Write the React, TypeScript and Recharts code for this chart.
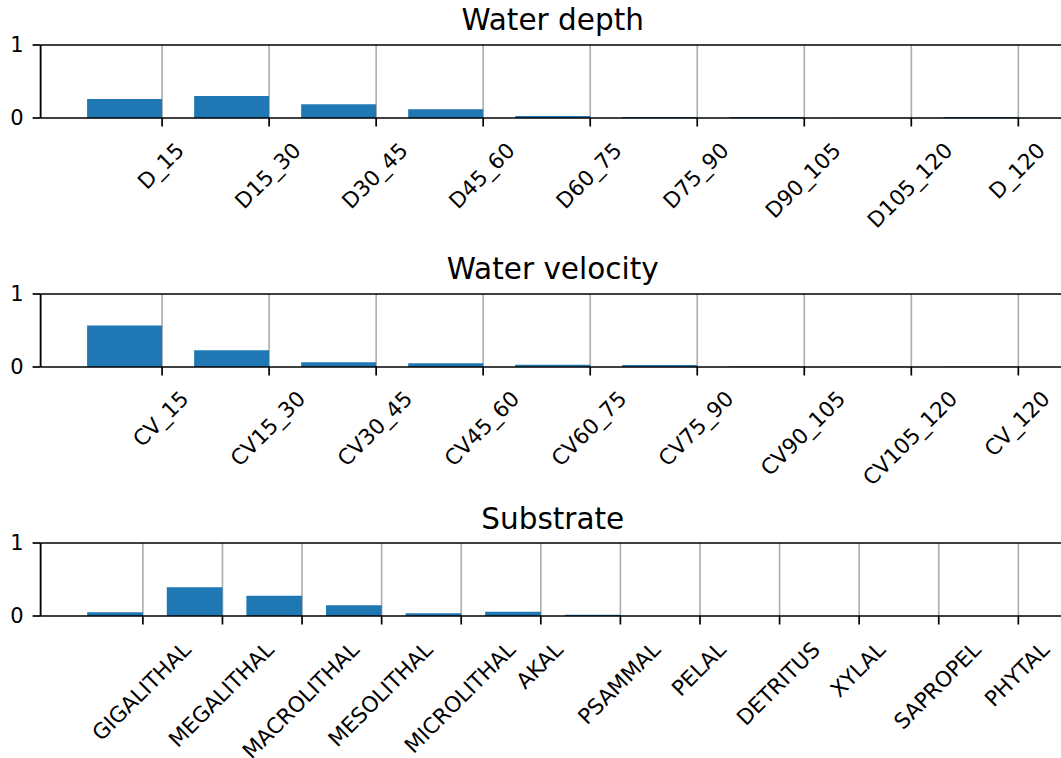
import React from 'react';
import { BarChart, Bar, XAxis, YAxis, CartesianGrid, ReferenceLine } from 'recharts';

// ---------- data ----------
const depthLabels = ['D_15', 'D15_30', 'D30_45', 'D45_60', 'D60_75', 'D75_90', 'D90_105', 'D105_120', 'D_120'];
const depthValues = [0.26, 0.3, 0.19, 0.12, 0.027, 0.012, 0.015, 0.005, 0.015];

const velocityLabels = ['CV_15', 'CV15_30', 'CV30_45', 'CV45_60', 'CV60_75', 'CV75_90', 'CV90_105', 'CV105_120', 'CV_120'];
const velocityValues = [0.57, 0.23, 0.064, 0.05, 0.03, 0.027, 0.006, 0.002, 0.005];

const substrateLabels = ['GIGALITHAL', 'MEGALITHAL', 'MACROLITHAL', 'MESOLITHAL', 'MICROLITHAL', 'AKAL', 'PSAMMAL', 'PELAL', 'DETRITUS', 'XYLAL', 'SAPROPEL', 'PHYTAL'];
const substrateValues = [0.05, 0.393, 0.278, 0.146, 0.037, 0.059, 0.018, 0, 0, 0, 0, 0];

const panelTitles = ['Water depth', 'Water velocity', 'Substrate'];
const yTicks = [0, 1];

// ---------- layout ----------
const W = 1061;
const H = 758;
const CHART_W = 1070;
const AX_LEFT = 40.6;
const AX_RIGHT = 1064.9;
const PLOT_H = 73;
const XH = 30;
const FONT = '"DejaVu Sans", sans-serif';
const XTICK_FS = 21.5;
const YTICK_FS = 21;
const TITLE_FS = 29.5;
const LINE_W = 1.7;

let ctx: CanvasRenderingContext2D | null = null;
function textWidth(s: string, fs: number): number {
  if (!ctx) {
    const c = document.createElement('canvas');
    ctx = c.getContext('2d');
  }
  if (!ctx) return s.length * fs * 0.62;
  ctx.font = `${fs}px "DejaVu Sans"`;
  return ctx.measureText(s).width;
}

function makeTick(labels: string[], axisY: number, inkTop: number) {
  return (props: any) => {
    const { x, payload } = props;
    const label = labels[payload.value];
    if (label === undefined) return <g />;
    const f = XTICK_FS;
    const w = textWidth(label, f);
    const ex = x + 0.35355 * (w + 0.52 * f);
    const ey = axisY + inkTop + 0.7071 * 0.73 * f;
    return (
      <text
        x={ex}
        y={ey}
        textAnchor="end"
        fontSize={f}
        fontFamily={FONT}
        fill="#000"
        transform={`rotate(-45 ${ex} ${ey})`}
      >
        {label}
      </text>
    );
  };
}

function Panel({ labels, values, plotTop, inkTop }: { labels: string[]; values: number[]; plotTop: number; inkTop: number }) {
  const n = labels.length;
  const data = labels.map((l, i) => ({ pos: i - 0.35, value: values[i], name: l }));
  const m = 0.05 * (n - 1 + 0.7);
  const domain: [number, number] = [-0.7 - m, n - 1 + m];
  const plotW = AX_RIGHT - AX_LEFT;
  const unit = plotW / (domain[1] - domain[0]);
  const ticks = labels.map((_, i) => i);
  const axisY = plotTop + PLOT_H;
  return (
    <div style={{ position: 'absolute', left: 0, top: 0 }}>
      <BarChart
        width={CHART_W}
        height={H}
        data={data}
        margin={{ top: plotTop, bottom: H - axisY - XH, left: 0, right: CHART_W - AX_RIGHT }}
        barGap={0}
        barCategoryGap={0}
      >
        <CartesianGrid horizontal={false} stroke="#b0b0b0" strokeWidth={LINE_W} />
        <XAxis
          type="number"
          dataKey="pos"
          domain={domain}
          ticks={ticks}
          allowDataOverflow
          interval={0}
          tickSize={8.5}
          tickMargin={0}
          height={XH}
          axisLine={{ stroke: '#000', strokeWidth: LINE_W }}
          tickLine={{ stroke: '#000', strokeWidth: LINE_W }}
          tick={makeTick(labels, axisY, inkTop)}
        />
        <YAxis
          type="number"
          domain={[0, 1]}
          ticks={yTicks}
          allowDataOverflow
          width={AX_LEFT}
          tickSize={8}
          tickMargin={9}
          axisLine={{ stroke: '#000', strokeWidth: LINE_W }}
          tickLine={{ stroke: '#000', strokeWidth: LINE_W }}
          tick={{ fontSize: YTICK_FS, fontFamily: FONT, fill: '#000' }}
        />
        <Bar dataKey="value" fill="#1f77b4" barSize={0.7 * unit} isAnimationActive={false} />
        <ReferenceLine y={1} stroke="#000" strokeWidth={LINE_W} ifOverflow="visible" />
      </BarChart>
    </div>
  );
}

const plotTops = [45, 294, 543];
const titleBaselines = [29.5, 278.5, 528.8];

export default function App() {
  return (
    <div style={{ position: 'absolute', left: 0, top: 0, width: W, height: H, overflow: 'hidden', background: '#fff' }}>
      <Panel labels={depthLabels} values={depthValues} plotTop={plotTops[0]} inkTop={22.8} />
      <Panel labels={velocityLabels} values={velocityValues} plotTop={plotTops[1]} inkTop={22} />
      <Panel labels={substrateLabels} values={substrateValues} plotTop={plotTops[2]} inkTop={24} />
      <svg width={W} height={H} style={{ position: 'absolute', left: 0, top: 0, pointerEvents: 'none' }}>
        {panelTitles.map((t, i) => (
          <text
            key={t}
            x={(AX_LEFT + AX_RIGHT) / 2}
            y={titleBaselines[i]}
            textAnchor="middle"
            fontSize={TITLE_FS}
            fontFamily={FONT}
            fill="#000"
          >
            {t}
          </text>
        ))}
      </svg>
    </div>
  );
}
